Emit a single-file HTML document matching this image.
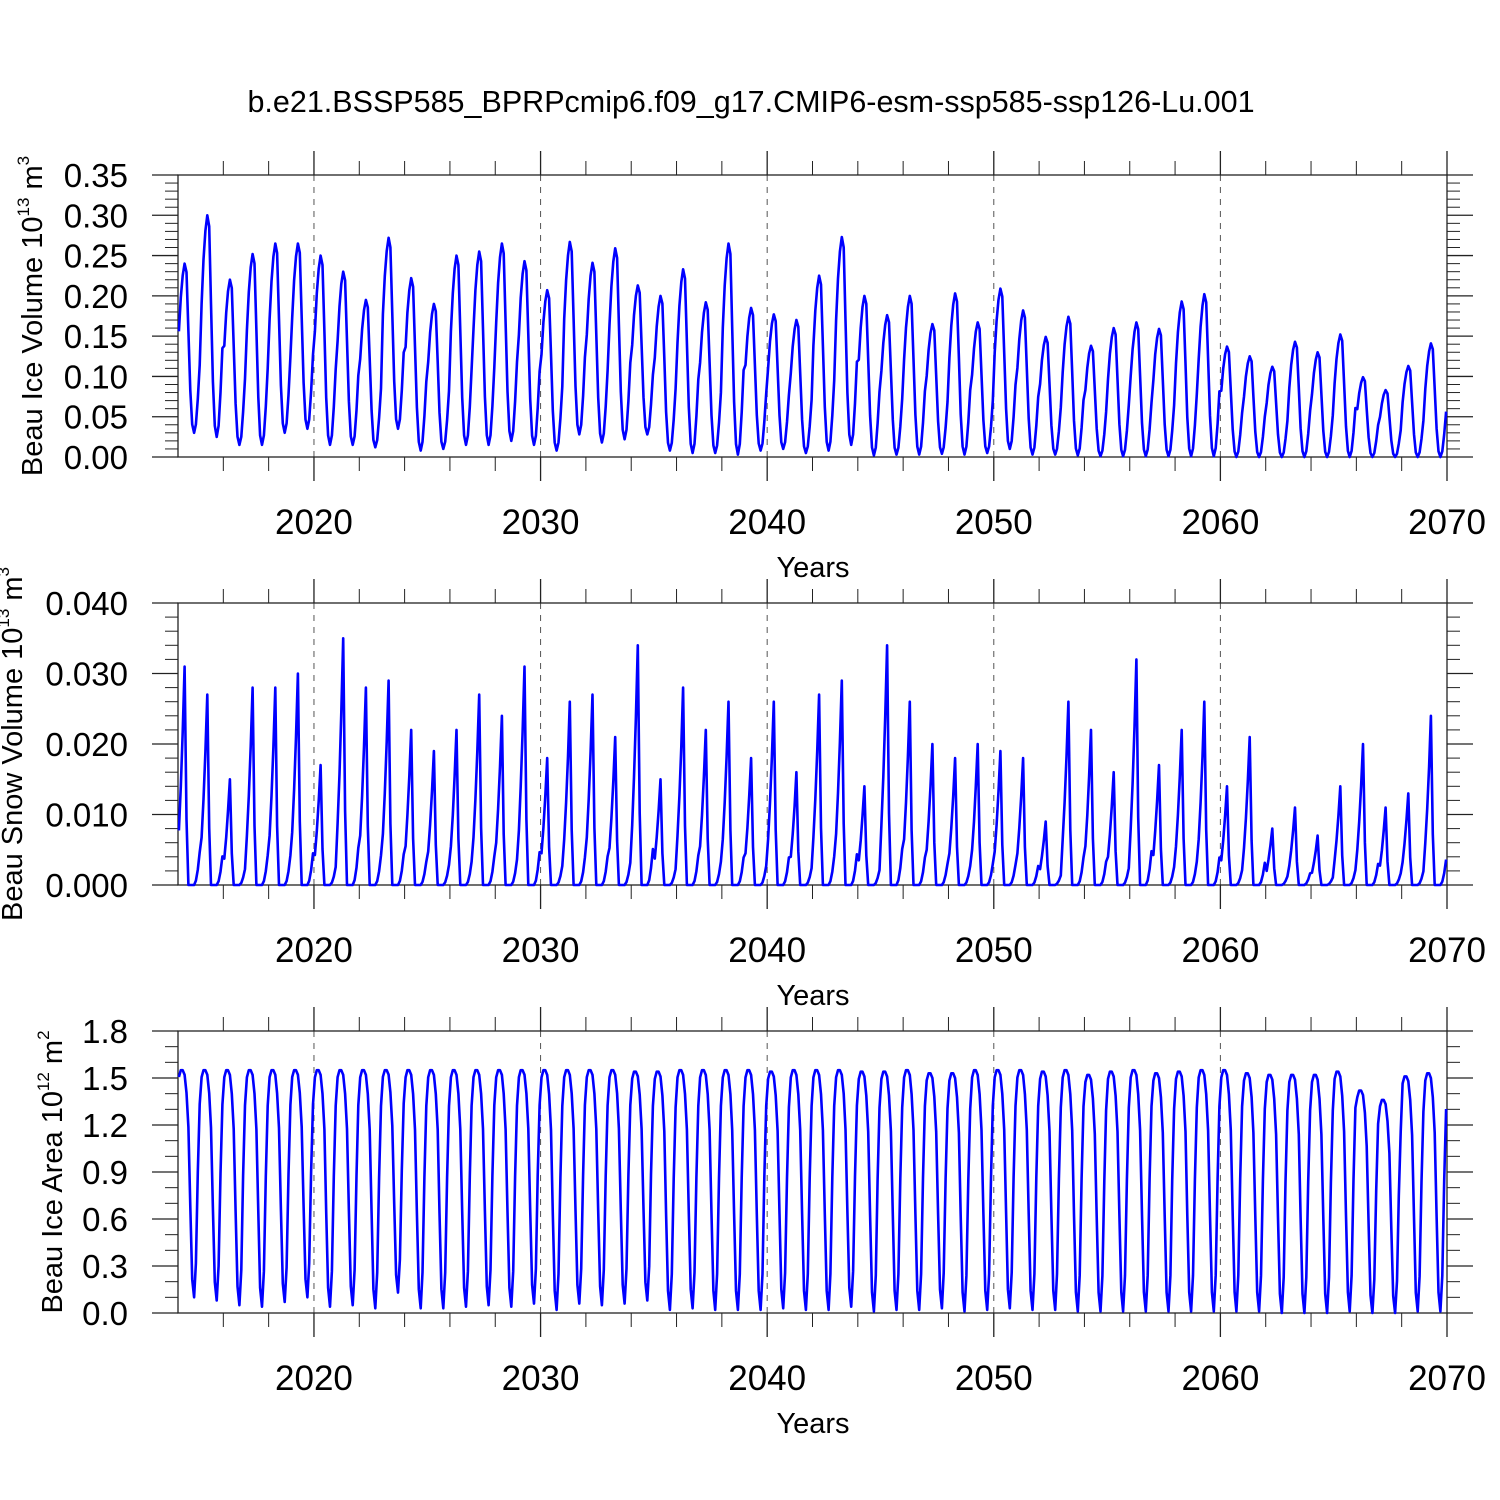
<!DOCTYPE html>
<html><head><meta charset="utf-8"><style>
html,body{margin:0;padding:0;background:#fff;}
svg{display:block;font-family:"Liberation Sans",sans-serif;}
</style></head><body>
<svg id="chart" width="1500" height="1500" viewBox="0 0 1500 1500">
<text x="751" y="112" font-size="30.5" text-anchor="middle">b.e21.BSSP585_BPRPcmip6.f09_g17.CMIP6-esm-ssp585-ssp126-Lu.001</text>
</svg>
<script>
const years=[];for(let y=2014;y<=2069;y++)years.push(y);
const iceVolMax=[0.24,0.30,0.22,0.252,0.265,0.265,0.25,0.23,0.195,0.272,0.222,0.19,0.25,0.255,0.265,0.243,0.207,0.267,0.241,0.259,0.213,0.2,0.233,0.192,0.265,0.185,0.177,0.17,0.225,0.273,0.2,0.176,0.2,0.165,0.203,0.167,0.209,0.182,0.149,0.174,0.138,0.16,0.167,0.159,0.193,0.202,0.137,0.125,0.112,0.143,0.13,0.152,0.099,0.083,0.113,0.141];
const iceVolMin=[0.03,0.025,0.015,0.015,0.03,0.035,0.015,0.015,0.012,0.035,0.008,0.01,0.015,0.015,0.02,0.015,0.008,0.028,0.018,0.022,0.028,0.008,0.005,0.005,0.003,0.008,0.01,0.005,0.008,0.015,0.002,0.003,0.003,0.004,0.003,0.005,0.01,0.003,0.003,0.002,0.001,0.001,0.001,0.001,0.001,0.001,0,0,0,0,0,0,0,0,0,0];
const snowMax=[0.031,0.027,0.015,0.028,0.028,0.030,0.017,0.035,0.028,0.029,0.022,0.019,0.022,0.027,0.024,0.031,0.018,0.026,0.027,0.021,0.034,0.015,0.028,0.022,0.026,0.018,0.026,0.016,0.027,0.029,0.014,0.034,0.026,0.020,0.018,0.020,0.019,0.018,0.009,0.026,0.022,0.016,0.032,0.017,0.022,0.026,0.014,0.021,0.008,0.011,0.007,0.014,0.020,0.011,0.013,0.024];
const areaMax=[1.55,1.55,1.55,1.55,1.55,1.55,1.55,1.55,1.55,1.55,1.55,1.55,1.55,1.55,1.55,1.55,1.55,1.55,1.55,1.55,1.54,1.54,1.55,1.55,1.55,1.55,1.54,1.55,1.55,1.55,1.54,1.54,1.55,1.53,1.53,1.55,1.55,1.55,1.54,1.55,1.52,1.54,1.55,1.53,1.54,1.55,1.55,1.53,1.52,1.52,1.52,1.54,1.42,1.36,1.51,1.53];
const areaMin=[0.1,0.08,0.05,0.04,0.07,0.1,0.04,0.05,0.03,0.13,0.03,0.03,0.04,0.05,0.04,0.06,0.02,0.06,0.05,0.06,0.08,0.02,0.03,0.02,0.02,0.02,0.03,0.02,0.02,0.04,0.01,0.02,0.02,0.03,0.01,0.02,0.03,0.02,0.02,0.01,0.01,0.01,0.01,0.01,0.01,0.01,0.01,0.01,0.0,0.0,0.0,0.01,0.0,0.0,0.01,0.01];
// seasonal cycle shapes (Jan..Dec)
const iceShape=[0.6,0.8,0.93,1.0,0.95,0.6,0.25,0.05,0,0.05,0.2,0.4];
const snowShape=[0.25,0.45,0.7,1.0,0.3,0,0,0,0,0.02,0.07,0.15];
const areaShape=[0.97,1,1,0.98,0.9,0.75,0.4,0.08,0,0.15,0.55,0.85];
const svg=document.getElementById('chart');
const NS='http://www.w3.org/2000/svg';
function el(t,a,p){const e=document.createElementNS(NS,t);for(const k in a)e.setAttribute(k,a[k]);(p||svg).appendChild(e);return e;}
const X0=178,X1=1447,T0=2014,T1=2070;
const xs=t=>X0+(t-T0)/(T1-T0)*(X1-X0);
function monthly(mx,mn,shape){const v=[];years.forEach((y,i)=>{shape.forEach((s,m)=>{v.push({t:y+(m+0.5)/12,v:mn[i]+(mx[i]-mn[i])*s});});});return v;}
const zeros=years.map(()=>0);
function panel(o){
  const g=el('g',{});
  
  
  const ys=v=>o.yb-(v-o.ymin)/(o.ymax-o.ymin)*(o.yb-o.yt);
  for(let y=2020;y<2070;y+=10){const l=el('line',{x1:xs(y),x2:xs(y),y1:o.yt,y2:o.yb,stroke:'#555','stroke-width':1,'stroke-dasharray':'6,6'},g);
    
    }
  for(let k=0;k<=o.nmaj*o.sub;k++){const v=o.ymin+k*(o.ymax-o.ymin)/(o.nmaj*o.sub);const y=ys(v);const maj=k%o.sub==0;const L=maj?26:13;
    el('line',{x1:X0-L,x2:X0,y1:y,y2:y,stroke:'#222','stroke-width':maj?1.3:1},g);
    el('line',{x1:X1,x2:X1+L,y1:y,y2:y,stroke:'#222','stroke-width':maj?1.3:1},g);
    if(maj){const t=el('text',{x:128,y:y+12,'font-size':33,'text-anchor':'end'},g);t.textContent=v.toFixed(o.dec);
      
      }}
  for(let y=2016;y<=2070;y+=2){const x=xs(y);const maj=y%10==0;const L=maj?24:14;
    el('line',{x1:x,x2:x,y1:o.yt-L,y2:o.yt,stroke:'#222','stroke-width':maj?1.3:1},g);
    el('line',{x1:x,x2:x,y1:o.yb,y2:o.yb+L,stroke:'#222','stroke-width':maj?1.3:1},g);
    if(maj){const t=el('text',{x:x,y:o.yb+77,'font-size':35,'text-anchor':'middle'},g);t.textContent=y;
      
      }}
  el('rect',{x:X0,y:o.yt,width:X1-X0,height:o.yb-o.yt,fill:'none',stroke:'#222','stroke-width':1.3},g);
  const d=o.data.map((p,i)=>(i?'L':'M')+xs(p.t).toFixed(1)+','+ys(Math.max(o.ymin,p.v)).toFixed(1)).join('');
  const ln=el('path',{d:d,fill:'none',stroke:'#0000ff','stroke-width':2.6,'stroke-linejoin':'round'},g);
  
  
  const xt=el('text',{x:813,y:o.yb+120,'font-size':29,'text-anchor':'middle'},g);xt.textContent='Years';
  
  
  const yt=el('text',{transform:`translate(${o.tx},${(o.yt+o.yb)/2}) rotate(-90)`,'font-size':29,'text-anchor':'middle'},g);
  yt.innerHTML=o.title+' 10<tspan font-size="17" dy="-13">'+o.exp+'</tspan><tspan dy="13"> m</tspan><tspan font-size="17" dy="-13">'+o.unit+'</tspan>';
  
  
}
panel({name:'ice-volume-panel',yt:175,yb:457,ymin:0,ymax:0.35,nmaj:7,sub:5,dec:2,tx:42,title:'Beau Ice Volume',exp:'13',unit:'3',data:monthly(iceVolMax,iceVolMin,iceShape)});
panel({name:'snow-volume-panel',yt:603,yb:885,ymin:0,ymax:0.04,nmaj:4,sub:5,dec:3,tx:22,title:'Beau Snow Volume',exp:'13',unit:'3',data:monthly(snowMax,zeros,snowShape)});
panel({name:'ice-area-panel',yt:1031,yb:1313,ymin:0,ymax:1.8,nmaj:6,sub:3,dec:1,tx:62,title:'Beau Ice Area',exp:'12',unit:'2',data:monthly(areaMax,areaMin,areaShape)});
</script>
</body></html>
